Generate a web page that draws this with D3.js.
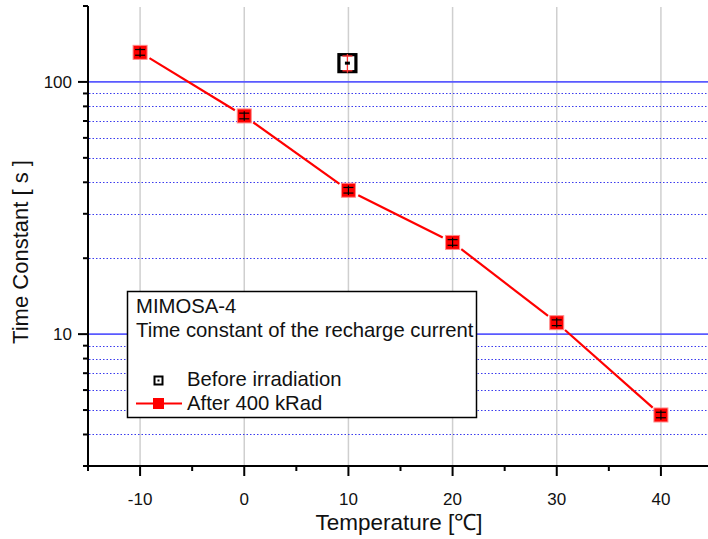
<!DOCTYPE html>
<html><head><meta charset="utf-8">
<script src="https://cdn.jsdelivr.net/npm/d3@7"></script>
<style>body{margin:0;background:#fff}svg{display:block;font-family:"Liberation Sans",Arial,sans-serif}</style>
</head><body><svg id="c" width="708" height="539"></svg>
<script>
// data
const temperatures = [-10, 0, 10, 20, 30, 40];
const after400kRad = [131, 73.3, 37.2, 23.1, 11.1, 4.78];
const after400kRadErr = [3.4, 1.9, 0.95, 0.6, 0.29, 0.12];
const beforeTemp = [10];
const beforeIrradiation = [118.7];
const beforeErr = [8];
const xTicks = [-10, 0, 10, 20, 30, 40];
const yMajorTicks = [10, 100];
const yTickLabels = ["10", "100"];
const legendTitle = ["MIMOSA-4", "Time constant of the recharge current"];
const seriesNames = ["Before irradiation", "After 400 kRad"];

const svg = d3.select("#c");
const x = d3.scaleLinear().domain([-15, 45]).range([88, 713]);
const y = d3.scaleLog().domain([3, 200]).range([466, 6]);

// minor values
const minorY = [];
[1, 10, 100].forEach(d => { for (let k = 2; k <= 9; k++) { const v = d * k; if (v >= 3 && v <= 200) minorY.push(v); } });
const minorX = d3.range(-15, 46, 5).filter(v => !xTicks.includes(v));

const grid = svg.append("g");
grid.selectAll(".vg").data(xTicks).join("line")
  .attr("x1", d => x(d)).attr("x2", d => x(d)).attr("y1", 7).attr("y2", 466)
  .attr("stroke", "#cfcfcf").attr("stroke-width", 1.5);
grid.selectAll(".hm").data(minorY.filter(v => v > 3 && v < 200)).join("line")
  .attr("x1", 89).attr("x2", 708).attr("y1", d => Math.round(y(d)) + 0.5).attr("y2", d => Math.round(y(d)) + 0.5)
  .attr("stroke", "#3a3aee").attr("stroke-width", 1).attr("stroke-dasharray", "1.5,2");
grid.selectAll(".hM").data(yMajorTicks).join("line")
  .attr("x1", 89).attr("x2", 708).attr("y1", d => y(d)).attr("y2", d => y(d))
  .attr("stroke", "#5a5aff").attr("stroke-width", 1.6);

// axes
const ax = svg.append("g").attr("stroke", "#000");
ax.append("line").attr("x1", x(-15)).attr("x2", 713).attr("y1", 466).attr("y2", 466).attr("stroke-width", 2);
ax.append("line").attr("x1", 88).attr("x2", 88).attr("y1", 6).attr("y2", 467).attr("stroke-width", 2);
ax.selectAll(".xt").data(xTicks).join("line")
  .attr("x1", d => x(d)).attr("x2", d => x(d)).attr("y1", 466).attr("y2", 476).attr("stroke-width", 2);
ax.selectAll(".xm").data(minorX).join("line")
  .attr("x1", d => x(d)).attr("x2", d => x(d)).attr("y1", 466).attr("y2", 471).attr("stroke-width", 2);
ax.selectAll(".yt").data(yMajorTicks).join("line")
  .attr("x1", 78).attr("x2", 88).attr("y1", d => y(d)).attr("y2", d => y(d)).attr("stroke-width", 2);
ax.selectAll(".ym").data(minorY).join("line")
  .attr("x1", 83).attr("x2", 88).attr("y1", d => y(d)).attr("y2", d => y(d)).attr("stroke-width", 2);

// tick labels
svg.selectAll(".xl").data(xTicks).join("text")
  .attr("x", d => x(d)).attr("y", 505).attr("text-anchor", "middle")
  .attr("font-size", 17).attr("fill", "#111").text(d => d);
svg.selectAll(".yl").data(yMajorTicks).join("text")
  .attr("x", 72).attr("y", d => y(d)).attr("dy", "0.36em").attr("text-anchor", "end")
  .attr("font-size", 17).attr("fill", "#111").text((d, i) => yTickLabels[i]);

// axis titles
svg.append("text").attr("x", 399).attr("y", 530).attr("text-anchor", "middle")
  .attr("font-size", 22.5).attr("fill", "#111").text("Temperature [℃]");
svg.append("text").attr("transform", "translate(28,252) rotate(-90)").attr("text-anchor", "middle")
  .attr("font-size", 22).attr("fill", "#111").text("Time Constant [ s ]");

// red line with gaps near markers
const pts = temperatures.map((t, i) => [x(t), y(after400kRad[i])]);
const gap = 11;
const segs = d3.pairs(pts).map(([a, b]) => {
  const dx = b[0] - a[0], dy = b[1] - a[1], L = Math.hypot(dx, dy);
  return [a[0] + dx / L * gap, a[1] + dy / L * gap, b[0] - dx / L * gap, b[1] - dy / L * gap];
});
svg.selectAll(".seg").data(segs).join("line")
  .attr("x1", d => d[0]).attr("y1", d => d[1]).attr("x2", d => d[2]).attr("y2", d => d[3])
  .attr("stroke", "#ff0000").attr("stroke-width", 2.2);

// markers after
const mk = svg.selectAll(".mk").data(temperatures).join("g")
  .attr("transform", (d, i) => `translate(${x(d)},${y(after400kRad[i])})`);
mk.append("rect").attr("x", -7).attr("y", -7).attr("width", 14).attr("height", 14)
  .attr("fill", "#ff0000").attr("stroke", "#ff8a8a").attr("stroke-width", 1);
temperatures.forEach((t, i) => {
  const cx = x(t), v = after400kRad[i], e = after400kRadErr[i];
  const y1 = y(v + e), y2 = y(v - e);
  const g = svg.append("g").attr("stroke", "#000").attr("stroke-width", 1.2);
  g.append("line").attr("x1", cx).attr("x2", cx).attr("y1", y1 - 2).attr("y2", y2 + 2);
  g.append("line").attr("x1", cx - 5).attr("x2", cx + 5).attr("y1", y1).attr("y2", y1);
  g.append("line").attr("x1", cx - 5).attr("x2", cx + 5).attr("y1", y2).attr("y2", y2);
});

// before irradiation marker
beforeTemp.forEach((t, i) => {
  const cx = x(t) - 1, v = beforeIrradiation[i], e = beforeErr[i];
  const cy = y(v);
  svg.append("rect").attr("x", cx - 8.5).attr("y", cy - 8.5).attr("width", 17).attr("height", 17)
    .attr("fill", "#fff").attr("stroke", "#000").attr("stroke-width", 3.2);
  const g = svg.append("g").attr("stroke", "#ff3030").attr("stroke-width", 1.3);
  g.append("line").attr("x1", cx).attr("x2", cx).attr("y1", y(v + e) - 2).attr("y2", y(v - e) + 2);
  g.append("line").attr("x1", cx - 5).attr("x2", cx + 5).attr("y1", y(v + e)).attr("y2", y(v + e));
  g.append("line").attr("x1", cx - 5).attr("x2", cx + 5).attr("y1", y(v - e)).attr("y2", y(v - e));
  svg.append("rect").attr("x", cx - 2.5).attr("y", cy - 1.5).attr("width", 5).attr("height", 3).attr("fill", "#000");
});

// legend
const lg = svg.append("g");
lg.append("rect").attr("x", 127.5).attr("y", 291.5).attr("width", 349).attr("height", 126)
  .attr("fill", "#fff").attr("stroke", "#000").attr("stroke-width", 1.5);
lg.selectAll(".lt").data(legendTitle).join("text")
  .attr("x", 136).attr("y", (d, i) => 313 + i * 24).attr("font-size", 20.3).attr("fill", "#111").text(d => d);
lg.selectAll(".ls").data(seriesNames).join("text")
  .attr("x", 187).attr("y", (d, i) => 386 + i * 23.5).attr("font-size", 20.3).attr("fill", "#111").text(d => d);
lg.append("rect").attr("x", 154.5).attr("y", 376.5).attr("width", 8).attr("height", 8)
  .attr("fill", "#fff").attr("stroke", "#000").attr("stroke-width", 2);
lg.append("rect").attr("x", 157.5).attr("y", 379.5).attr("width", 2).attr("height", 2).attr("fill", "#000");
lg.append("line").attr("x1", 136).attr("x2", 182).attr("y1", 403.5).attr("y2", 403.5)
  .attr("stroke", "#ff0000").attr("stroke-width", 2);
lg.append("rect").attr("x", 153).attr("y", 398).attr("width", 11).attr("height", 11).attr("fill", "#ff0000");
</script></body></html>
